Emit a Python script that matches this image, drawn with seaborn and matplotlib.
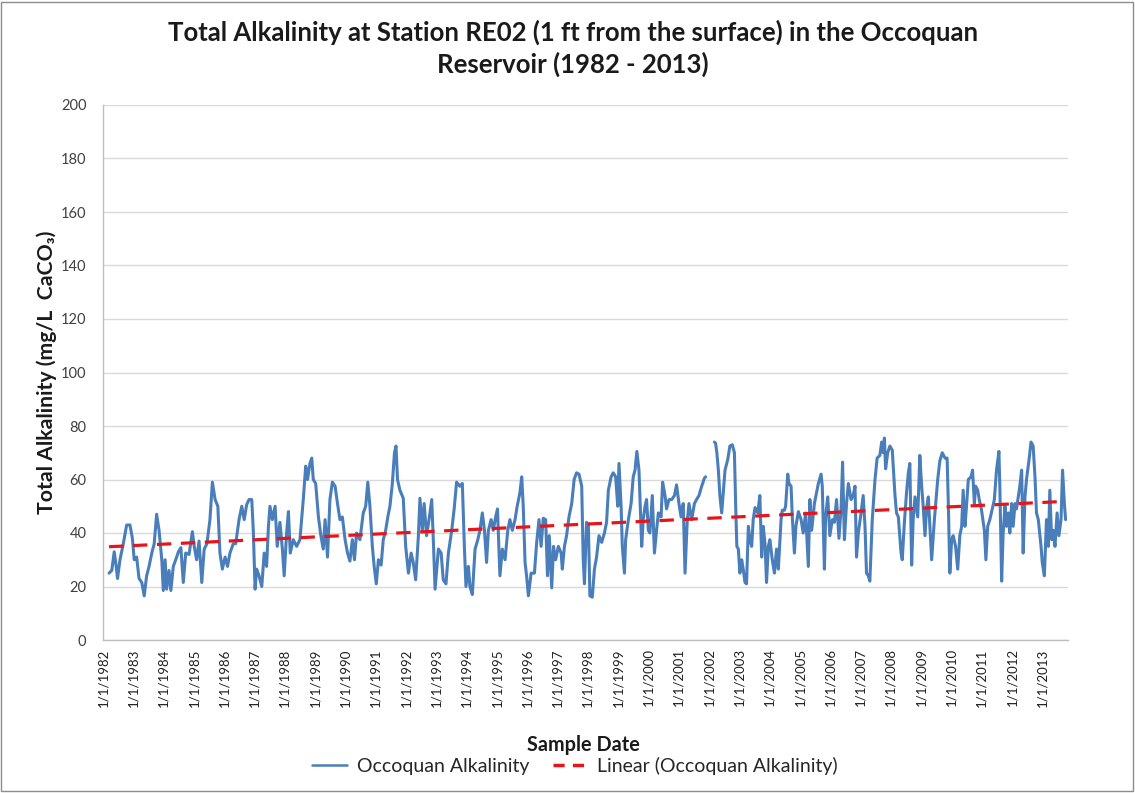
import numpy as np
import pandas as pd
import matplotlib
matplotlib.use("Agg")
import matplotlib.pyplot as plt
from matplotlib.lines import Line2D
from matplotlib.patches import Rectangle
import seaborn as sns

# ---------------- data ----------------
sample_year = [
    1982.20, 1982.29, 1982.37, 1982.43, 1982.48, 1982.56, 1982.67, 1982.78, 1982.89, 1982.97,
    1983.03, 1983.11, 1983.19, 1983.28, 1983.36, 1983.44, 1983.52, 1983.61, 1983.69, 1983.77,
    1983.85, 1983.94, 1983.99, 1984.05, 1984.10, 1984.18, 1984.24, 1984.32, 1984.40, 1984.49,
    1984.57, 1984.65, 1984.73, 1984.84, 1984.95, 1985.01, 1985.09, 1985.17, 1985.26, 1985.34,
    1985.43, 1985.53, 1985.61, 1985.70,
    1985.79, 1985.86, 1985.94, 1986.03, 1986.11, 1986.19, 1986.30, 1986.38, 1986.49, 1986.58,
    1986.66, 1986.74, 1986.82, 1986.91, 1986.96, 1987.02, 1987.07, 1987.15, 1987.24, 1987.32,
    1987.40, 1987.46, 1987.51, 1987.59, 1987.68, 1987.75, 1987.84, 1987.92, 1987.98, 1988.06,
    1988.12, 1988.18, 1988.28, 1988.39, 1988.50, 1988.61, 1988.69, 1988.75, 1988.83, 1988.89,
    1988.94, 1989.02, 1989.11, 1989.19, 1989.27, 1989.33, 1989.41, 1989.49, 1989.57, 1989.66,
    1989.74, 1989.82, 1989.90, 1989.99, 1990.07, 1990.15, 1990.23, 1990.30, 1990.37, 1990.48,
    1990.59, 1990.67, 1990.74, 1990.81, 1990.89, 1990.95, 1991.02, 1991.09, 1991.18, 1991.25,
    1991.33, 1991.40, 1991.47, 1991.55, 1991.62, 1991.67, 1991.72, 1991.80, 1991.91, 1991.99,
    1992.08, 1992.17, 1992.24, 1992.32, 1992.41, 1992.46, 1992.54, 1992.60, 1992.68, 1992.76,
    1992.85, 1992.91, 1992.96, 1993.07, 1993.16, 1993.23, 1993.32, 1993.40, 1993.51, 1993.59,
    1993.67,
    1993.78, 1993.86, 1993.93, 1993.98, 1994.06, 1994.11, 1994.19, 1994.28, 1994.37, 1994.44,
    1994.52, 1994.59, 1994.66, 1994.72, 1994.81, 1994.88, 1994.96, 1995.02, 1995.10, 1995.18,
    1995.27, 1995.36, 1995.43, 1995.51, 1995.60, 1995.67, 1995.76, 1995.82, 1995.87, 1995.93,
    1995.98, 1996.04, 1996.13, 1996.24, 1996.31, 1996.39, 1996.46, 1996.53, 1996.61, 1996.67,
    1996.73, 1996.81, 1996.87, 1996.94, 1997.03, 1997.12, 1997.16, 1997.23, 1997.30, 1997.38,
    1997.47, 1997.55, 1997.63, 1997.71, 1997.80,
    1997.85, 1997.89, 1997.96, 1998.02, 1998.07, 1998.15, 1998.22, 1998.29, 1998.37, 1998.46,
    1998.55, 1998.62, 1998.68, 1998.77, 1998.84, 1998.92, 1998.99, 1999.03, 1999.10, 1999.14,
    1999.21, 1999.25, 1999.34, 1999.43, 1999.50, 1999.56, 1999.62, 1999.69, 1999.78, 1999.83,
    1999.89, 1999.94, 2000.00, 2000.05, 2000.13, 2000.20, 2000.27, 2000.33, 2000.42, 2000.47,
    2000.55, 2000.60, 2000.68, 2000.77, 2000.86, 2000.93, 2001.01, 2001.08, 2001.15, 2001.21,
    2001.28, 2001.34, 2001.43, 2001.52, 2001.59, 2001.67, 2001.76, 2001.85, 2001.89, 2002.00,
    2002.18, 2002.22, 2002.26, 2002.31, 2002.36, 2002.42, 2002.47, 2002.53, 2002.62, 2002.69,
    2002.77, 2002.84, 2002.88, 2002.92, 2002.97, 2003.02, 2003.08, 2003.13, 2003.19, 2003.24,
    2003.30, 2003.35, 2003.41, 2003.46, 2003.52, 2003.61, 2003.68, 2003.74, 2003.79, 2003.85,
    2003.90, 2003.96, 2004.01, 2004.09, 2004.16, 2004.23, 2004.29, 2004.38, 2004.42, 2004.49,
    2004.53, 2004.60, 2004.64, 2004.71, 2004.75, 2004.82, 2004.87, 2004.95, 2005.04, 2005.11,
    2005.19, 2005.28, 2005.33, 2005.39, 2005.48,
    2005.55, 2005.61, 2005.70, 2005.74, 2005.81, 2005.85, 2005.92, 2005.99, 2006.07, 2006.14,
    2006.21, 2006.29, 2006.36, 2006.41, 2006.47, 2006.54, 2006.60, 2006.69, 2006.76, 2006.82,
    2006.87, 2006.93, 2007.02, 2007.09, 2007.15, 2007.20, 2007.26, 2007.31, 2007.39, 2007.48,
    2007.55, 2007.64, 2007.70, 2007.75, 2007.79, 2007.83, 2007.90, 2007.97, 2008.05, 2008.14,
    2008.19, 2008.25, 2008.34, 2008.38, 2008.45, 2008.52, 2008.58, 2008.63, 2008.69, 2008.74,
    2008.80, 2008.89, 2008.96, 2009.02, 2009.07, 2009.13, 2009.18, 2009.24, 2009.29, 2009.35,
    2009.44,
    2009.55, 2009.62, 2009.70, 2009.79, 2009.86, 2009.90, 2009.95, 2010.01, 2010.06, 2010.14,
    2010.21, 2010.28, 2010.34, 2010.39, 2010.45, 2010.50, 2010.56, 2010.65, 2010.70, 2010.76,
    2010.80, 2010.87, 2010.92, 2010.99, 2011.09, 2011.14, 2011.20, 2011.27, 2011.35, 2011.42,
    2011.49, 2011.57, 2011.60, 2011.66, 2011.71, 2011.77, 2011.82, 2011.88, 2011.93, 2011.99,
    2012.04, 2012.10, 2012.15, 2012.21, 2012.26, 2012.32, 2012.37, 2012.43, 2012.48, 2012.56,
    2012.63, 2012.70, 2012.76, 2012.81, 2012.87, 2012.96, 2013.00, 2013.07, 2013.14, 2013.20,
    2013.25, 2013.31, 2013.36, 2013.42, 2013.49, 2013.55, 2013.62, 2013.67, 2013.73, 2013.77,
]

alkalinity = [
    25, 26, 33, 28, 23, 30, 36, 43, 43, 38,
    30, 31, 23, 21.5, 16.5, 24, 27.5, 32.5, 36, 47,
    41, 30, 18.5, 30, 19, 26, 18.5, 27.5, 30, 33,
    34.5, 21.5, 32.5, 32, 40.5, 35, 30, 37, 21.5, 34,
    36, 45, 59, 52.5,
    50, 32.5, 26.5, 31, 27.5, 32.5, 36, 36, 45, 50,
    45, 50.5, 52.5, 52.5, 41, 19, 26.5, 24, 20, 32.5,
    27.5, 42.5, 50, 45, 50, 35, 44, 34, 24, 40,
    48, 32.5, 37.5, 35, 37.5, 52.5, 65, 60, 66, 68,
    60, 58.5, 46, 39, 34, 45, 31, 52.5, 59, 57.5,
    51, 45, 46, 37.5, 32.5, 29.5, 37.5, 30, 40, 37.5,
    47.5, 50, 59, 50, 35, 27.5, 21, 30, 28, 37.5,
    41, 46, 50, 58.5, 70, 72.5, 60, 56, 53, 35,
    25, 32.5, 29, 22.5, 39, 53, 41, 51, 39, 45,
    52.5, 35, 19, 34, 32.5, 22.5, 21, 32.5, 41, 49,
    59,
    57.5, 58.5, 34, 20, 27.5, 20, 17, 34, 37.5, 41,
    47.5, 41, 29, 41, 45, 41, 46, 49, 24, 34,
    30, 41, 45, 41, 45, 50, 55, 61, 50, 29,
    24, 16.5, 25, 25, 36, 45, 35, 45.5, 45, 24,
    39, 19.5, 35, 30, 35, 32.5, 26.5, 35, 39, 46,
    51, 60, 62.5, 62, 57.5,
    30, 21, 44, 43, 16.5, 16, 26.5, 31, 39, 36.5,
    40, 44, 56, 61, 62.5, 61, 50, 66, 50, 35,
    25, 37.5, 45, 51, 61, 63.5, 70.5, 63.5, 35, 45,
    50, 52.5, 41, 40, 54, 32.5, 41, 47.5, 46, 59,
    54, 49, 52.5, 52.5, 54, 58, 51, 46, 51, 25,
    44, 51, 45, 51, 52.5, 54, 57.5, 60.5, 61, np.nan,
    74, 73.5, 70, 63.5, 54, 47.5, 55, 63.5, 67.5, 72.5,
    73, 70, 51, 35, 34, 25, 30, 26.5, 21.5, 21,
    42.5, 37.5, 35, 45, 49.5, 47.5, 54, 31, 42.5, 36,
    21.5, 35, 37.5, 30, 25, 34, 26.5, 45, 48.5, 48.5,
    50, 62, 58.5, 57.5, 46, 32.5, 42.5, 48, 45, 40,
    47.5, 27.5, 52.5, 41, 51,
    55, 58.5, 62, 57.5, 26.5, 46, 53.5, 39, 45, 44,
    52.5, 38, 49, 66.5, 37.5, 51, 58.5, 52.5, 54, 57.5,
    31, 40, 47.5, 54, 42.5, 25, 24, 22, 45, 60,
    68, 69, 74, 70, 75.5, 64, 70, 72.5, 71, 54,
    47.5, 46, 32.5, 30, 44, 55, 62.5, 66, 28, 45,
    53.5, 46, 69, 57.5, 50, 39, 49, 53.5, 42.5, 30,
    45,
    60, 67, 70, 68, 68, 51, 25, 37.5, 39, 35,
    26.5, 39, 42.5, 56, 42.5, 50, 60, 61, 63.5, 51,
    57.5, 56, 52.5, 49, 41, 30, 42.5, 45, 49, 52.5,
    63.5, 70.5, 57.5, 22, 40, 50, 42.5, 47.5, 40, 51,
    42.5, 51, 49, 53.5, 57.5, 63.5, 32.5, 53.5, 60, 67,
    74, 72.5, 61, 47.5, 45, 35, 29, 24, 45, 35,
    56, 37.5, 41, 35, 47.5, 39, 45, 63.5, 51, 45,
]

tick_years = list(range(1982, 2014))
tick_labels = [f"1/1/{y}" for y in tick_years]
y_ticks = list(range(0, 201, 20))

title_text = "Total Alkalinity at Station RE02 (1 ft from the surface) in the Occoquan\nReservoir (1982 - 2013)"
ylabel_text = "Total Alkalinity (mg/L  CaCO\u2083)"
xlabel_text = "Sample Date"
series_name = "Occoquan Alkalinity"
trend_name = "Linear (Occoquan Alkalinity)"

# ---------------- build frame ----------------
df = pd.DataFrame({"year": sample_year, "alk": alkalinity})
df["segment"] = df["alk"].isna().cumsum()
df_valid = df.dropna()

# ---------------- style ----------------
sns.set_style("white")
plt.rcParams["font.family"] = ["Lato", "DejaVu Sans"]

BLUE = "#4A7EBB"
RED = "#E8141B"
GRID = "#D9D9D9"
AXIS = "#BFBFBF"
TEXT = "#404040"

fig = plt.figure(figsize=(11.35, 7.93), dpi=100)
ax = fig.add_axes([103 / 1135, 1 - 640 / 793, (1068 - 103) / 1135, (640 - 105) / 793])

sns.lineplot(data=df_valid, x="year", y="alk", units="segment", estimator=None,
             sort=False, color=BLUE, linewidth=2.2, ax=ax, legend=False)
sns.regplot(data=df_valid, x="year", y="alk", scatter=False, ci=None, ax=ax,
            line_kws=dict(color=RED, linewidth=2.3, dashes=(4.5, 3.0)))

ax.set_xlim(1982.0, 2013.85)
ax.set_ylim(0, 200)
ax.set_yticks(y_ticks)
ax.set_yticklabels([str(v) for v in y_ticks], fontsize=10.5, color=TEXT)
ax.set_xticks(tick_years)
ax.set_xticklabels(tick_labels, rotation=90, fontsize=9.5, color="#202020")
ax.tick_params(axis="x", length=0, pad=6)
ax.tick_params(axis="y", length=0, pad=12)
ax.set_xlabel("")
ax.set_ylabel("")

ax.grid(axis="y", color=GRID, linewidth=1.0)
ax.grid(axis="x", visible=False)
ax.set_axisbelow(True)
for s in ["top", "right"]:
    ax.spines[s].set_visible(False)
for s in ["left", "bottom"]:
    ax.spines[s].set_color(AXIS)
    ax.spines[s].set_linewidth(1.0)

# texts
fig.text(573 / 1135, 1 - 48 / 793, title_text, ha="center", va="center",
         fontsize=18.5, fontweight="bold", color="#1a1a1a", linespacing=1.3)
fig.text(47 / 1135, 1 - 372 / 793, ylabel_text, rotation=90, ha="center", va="center",
         fontsize=15.3, fontweight="bold", color="#1a1a1a")
fig.text(583 / 1135, 1 - 745 / 793, xlabel_text, ha="center", va="center",
         fontsize=14.3, fontweight="bold", color="#1a1a1a")

handles = [
    Line2D([], [], color=BLUE, linewidth=1.8),
    Line2D([], [], color=RED, linewidth=2.5, dashes=(3.2, 2.4)),
]
fig.legend(handles, [series_name, trend_name], loc="center", ncol=2,
           bbox_to_anchor=(575 / 1135, 1 - 766 / 793), frameon=False,
           fontsize=14, handlelength=1.8, handletextpad=0.5, columnspacing=1.2,
           labelcolor="#262626")

# outer border
fig.patches.append(Rectangle((0.001, 0.002), 0.997, 0.996, transform=fig.transFigure,
                             fill=False, edgecolor="#8c8c8c", linewidth=1.0))

fig.savefig("out.png", dpi=100)
